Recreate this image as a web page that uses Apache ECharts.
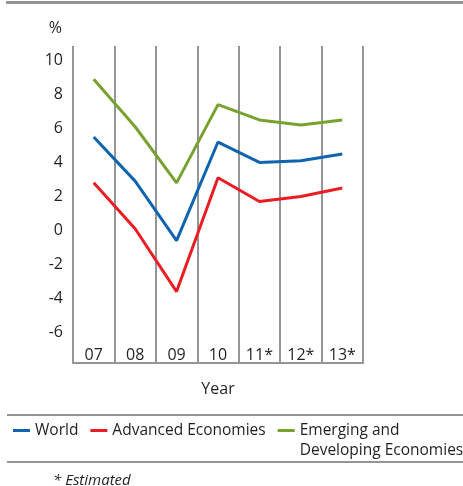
<!DOCTYPE html>
<html>
<head>
<meta charset="utf-8">
<script src="https://cdn.jsdelivr.net/npm/echarts@6/dist/echarts.min.js"></script>
<style>
  html, body { margin: 0; padding: 0; background: #fff; }
  #chart { width: 463px; height: 486px; }
</style>
</head>
<body>
<div id="chart"></div>
<script>
// Real GDP growth, %
const years = ['07', '08', '09', '10', '11*', '12*', '13*'];
const world = [5.5, 2.9, -0.6, 5.2, 4.0, 4.1, 4.5];
const advanced = [2.8, 0.1, -3.6, 3.1, 1.7, 2.0, 2.5];
const emerging = [8.9, 6.1, 2.8, 7.4, 6.5, 6.2, 6.5];
const yTicks = [-6, -4, -2, 0, 2, 4, 6, 8, 10];

const FONT = '"Open Sans", sans-serif';
const INK = '#231f20';
const RULE = '#939598';

// Legend swatch: a 17x3 bar at the top of a 17x23 box, so it sits
// level with the first line of a two-line label.
const ICON_TOP = 'path://M0,0L17,0L17,3L0,3ZM0,23L0,23M17,23L17,23';

const chart = echarts.init(document.getElementById('chart'), null, { renderer: 'canvas' });

function lineSeries(name, values, color) {
  return {
    name: name,
    type: 'line',
    data: values,
    symbol: 'none',
    lineStyle: { color: color, width: 3 },
    itemStyle: { color: color },
    animation: false
  };
}

chart.setOption({
  animation: false,
  grid: { left: 73, top: 46, width: 290, height: 317 },
  xAxis: [
    {
      type: 'category',
      data: years,
      boundaryGap: true,
      position: 'bottom',
      axisLine: { show: false },
      axisTick: { show: false },
      axisLabel: {
        inside: true, margin: 0, interval: 0,
        color: INK, fontSize: 16, fontFamily: FONT
      },
      splitLine: { show: true, interval: 0, lineStyle: { color: RULE, width: 2 } },
      name: 'Year',
      nameLocation: 'middle',
      nameGap: 18,
      nameTextStyle: { color: INK, fontSize: 16, fontFamily: FONT, verticalAlign: 'top' }
    },
    {
      // zero baseline
      type: 'category',
      data: years,
      position: 'bottom',
      axisLine: { show: true, onZero: true, lineStyle: { color: RULE, width: 2 } },
      axisTick: { show: false },
      axisLabel: { show: false },
      splitLine: { show: false }
    }
  ],
  yAxis: {
    type: 'value',
    min: -7.8,
    max: 10.85,
    axisLine: { show: false },
    axisTick: { show: false },
    splitLine: { show: false },
    axisLabel: {
      customValues: yTicks,
      margin: 10,
      color: INK, fontSize: 16, fontFamily: FONT
    },
    name: '%',
    nameLocation: 'end',
    nameGap: 10,
    nameTextStyle: { color: INK, fontSize: 16, fontFamily: FONT, align: 'right', padding: [0, 11, 0, 0] }
  },
  legend: {
    left: 13,
    top: 420.5,
    width: 455,
    padding: 0,
    icon: ICON_TOP,
    itemWidth: 17,
    itemHeight: 23,
    itemGap: 12,
    itemStyle: { borderWidth: 0 },
    textStyle: { color: INK, fontSize: 15.5, fontFamily: FONT, lineHeight: 20 },
    // every label is laid out on two lines so the first lines share one baseline
    formatter: function (name) {
      return name === 'Emerging and Developing Economies'
        ? 'Emerging and\nDeveloping Economies'
        : name + '\n ';
    }
  },
  series: [
    lineSeries('World', world, '#0f64b0'),
    lineSeries('Advanced Economies', advanced, '#ec1c24'),
    lineSeries('Emerging and Developing Economies', emerging, '#78a22f')
  ],
  graphic: [
    { type: 'line', shape: { x1: 6, y1: 2.5, x2: 463, y2: 2.5 }, style: { stroke: RULE, lineWidth: 3 }, silent: true },
    { type: 'line', shape: { x1: 7, y1: 415, x2: 463, y2: 415 }, style: { stroke: RULE, lineWidth: 2 }, silent: true },
    { type: 'line', shape: { x1: 7, y1: 462, x2: 463, y2: 462 }, style: { stroke: RULE, lineWidth: 2 }, silent: true },
    {
      type: 'text', left: 53, top: 473,
      style: { text: '* Estimated', fill: INK, font: 'italic 15px ' + FONT }
    }
  ]
});
</script>
</body>
</html>
